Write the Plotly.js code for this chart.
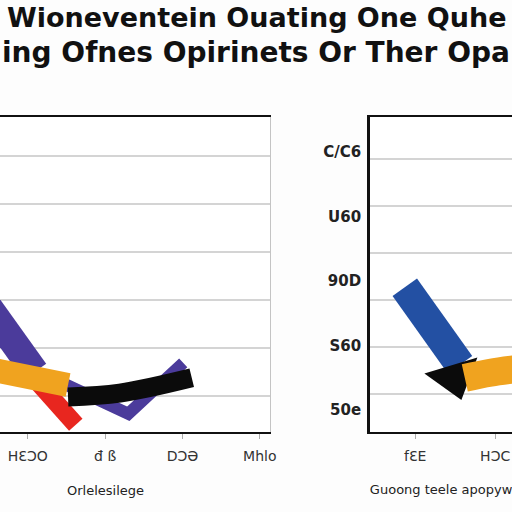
<!DOCTYPE html>
<html>
<head>
<meta charset="utf-8">
<script src="https://cdn.plot.ly/plotly-3.0.1.min.js"></script>
<style>html,body{margin:0;padding:0;background:#fdfdfd;}#chart{width:512px;height:512px;}</style>
</head>
<body>
<div id="chart"></div>
<script>
// ---- text ----
const titleLines = ["Wioneventein Ouating One Quhe", "ing Ofnes Opirinets Or Ther Opa"];
const leftTickVals = [1, 2, 3, 4];
const leftTickText = ["HƐƆO", "đ ß", "DƆƏ", "Mhlo"];
const leftAxisTitle = "Orlelesilege";
const rightTickVals = [1, 2];
const rightTickText = ["fƐE", "HƆC"];
const rightAxisTitle = "Guoong teele apopyw";
const rightYLabelVals = [0, 1, 2, 3, 4];
const rightYLabels = ["50e", "S60", "90D", "U60", "C/C6"];

// ---- left panel series ----
const leftPurpleAX = [0.38, 1.09];
const leftPurpleAY = [3.10, 1.50];
const leftPurpleBX = [1.42, 2.30, 3.01];
const leftPurpleBY = [1.29, 0.63, 1.69];
const leftRedX = [1.15, 1.62];
const leftRedY = [1.25, 0.40];
const leftOrangeX = [0.57, 1.52];
const leftOrangeY = [1.54, 1.23];
const leftBlackX = [1.52, 2.19, 3.12];
const leftBlackY = [0.98, 1.06, 1.38];

// ---- right panel series ----
const rightBlueX = [0.87, 1.56];
const rightBlueY = [3.27, 1.62];
const rightArrowX = [1.49];
const rightArrowY = [1.36];
const rightOrangeX = [1.62, 1.94, 2.38];
const rightOrangeY = [1.34, 1.45, 1.55];

const purple = '#4b3b9b', red = '#e8261f', orange = '#f0a31f', black = '#0b0b0b', blue = '#2350a3';

function ribbon(x, y, color, width, xa, ya, shape) {
  return {type: 'scatter', mode: 'lines', x: x, y: y, xaxis: xa, yaxis: ya,
    line: {color: color, width: width, shape: shape || 'linear'}, hoverinfo: 'skip'};
}

const data = [
  ribbon(leftPurpleAX, leftPurpleAY, purple, 28, 'x', 'y'),
  ribbon(leftPurpleBX, leftPurpleBY, purple, 12, 'x', 'y'),
  ribbon(leftRedX, leftRedY, red, 18, 'x', 'y'),
  ribbon(leftOrangeX, leftOrangeY, orange, 24, 'x', 'y'),
  ribbon(leftBlackX, leftBlackY, black, 19, 'x', 'y', 'spline'),
  ribbon(rightBlueX, rightBlueY, blue, 30, 'x2', 'y2'),
  {type: 'scatter', mode: 'markers', x: rightArrowX, y: rightArrowY, xaxis: 'x2', yaxis: 'y2',
    marker: {symbol: 'triangle-down', size: 48, color: black, angle: -17}, hoverinfo: 'skip'},
  ribbon(rightOrangeX, rightOrangeY, orange, 28, 'x2', 'y2', 'spline'),
  {type: 'scatter', mode: 'markers', x: [1], y: [0], xaxis: 'x2', yaxis: 'y3', marker: {opacity: 0}, hoverinfo: 'skip'}
];

const tickFont = {family: 'DejaVu Sans', size: 14, color: '#333'};
const titleFont1 = {family: 'DejaVu Sans', size: 27, color: '#111', weight: 'bold'};
const titleFont2 = {family: 'DejaVu Sans', size: 28, color: '#111', weight: 'bold'};

const layout = {
  width: 512, height: 512,
  paper_bgcolor: '#fdfdfd', plot_bgcolor: '#ffffff',
  margin: {l: 0, r: 0, t: 117, b: 80},
  showlegend: false,
  annotations: [
    {text: titleLines[0], xref: 'paper', yref: 'paper', x: 0.5, y: 1.317, xanchor: 'center', yanchor: 'middle',
      showarrow: false, font: titleFont1},
    {text: titleLines[1], xref: 'paper', yref: 'paper', x: 0.5, y: 1.206, xanchor: 'center', yanchor: 'middle',
      showarrow: false, font: titleFont2},
    {text: leftAxisTitle, xref: 'paper', yref: 'paper', x: 105 / 512, y: -0.187, xanchor: 'center', yanchor: 'middle',
      showarrow: false, font: {family: 'DejaVu Sans', size: 13, color: '#222'}}
  ],
  xaxis: {domain: [0, 0.527], range: [0.64, 4.13], tickvals: leftTickVals, ticktext: leftTickText,
    showgrid: false, zeroline: false, showline: true, linecolor: '#111', linewidth: 2, mirror: true,
    ticks: 'outside', ticklen: 5, tickcolor: '#aaa', tickfont: tickFont, ticklabelstandoff: 5},
  yaxis: {domain: [0, 1], range: [0.25, 6.81], tick0: 0, dtick: 1, showticklabels: false,
    gridcolor: '#d4d4d4', gridwidth: 1.5, zeroline: false, showline: true, linecolor: '#c4c4c4',
    linewidth: 1.5, mirror: true, anchor: 'x'},
  xaxis2: {domain: [0.723, 1], range: [0.4375, 2.21], tickvals: rightTickVals, ticktext: rightTickText,
    anchor: 'y2', showgrid: false, zeroline: false, showline: true, linecolor: '#111', linewidth: 2, mirror: true,
    ticks: 'outside', ticklen: 5, tickcolor: '#aaa', tickfont: tickFont, ticklabelstandoff: 5,
    ticklabeloverflow: 'allow',
    title: {text: rightAxisTitle, font: {family: 'DejaVu Sans', size: 13, color: '#222'}, standoff: 22}},
  yaxis2: {domain: [0, 1], anchor: 'x2', range: [0.19, 6.89], tick0: 0, dtick: 1, showticklabels: false,
    gridcolor: '#d4d4d4', gridwidth: 1.5, zeroline: false, showline: true, linecolor: '#111', linewidth: 3},
  yaxis3: {overlaying: 'y2', anchor: 'x2', side: 'left', range: [-0.34, 4.54], tickvals: rightYLabelVals,
    ticktext: rightYLabels, showgrid: false, zeroline: false, showline: false, ticks: '',
    ticklabelstandoff: 8, tickfont: {family: 'DejaVu Sans', size: 15, color: '#222', weight: 'bold'}}
};

Plotly.newPlot('chart', data, layout, {staticPlot: true});
</script>
</body>
</html>
